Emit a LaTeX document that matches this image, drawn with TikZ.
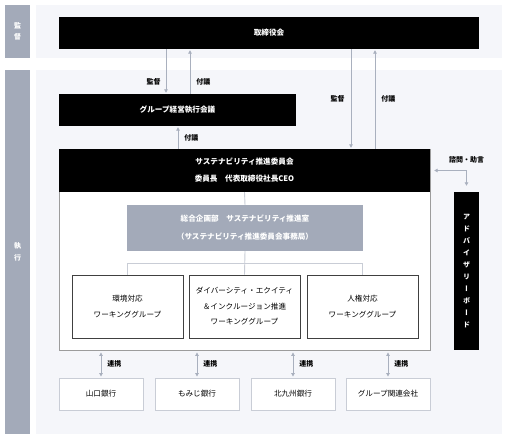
\documentclass[tikz,border=0pt]{standalone}
\usepackage{fontspec}
\setmainfont{Noto Sans CJK JP}
\newfontfamily\vertfont[RawFeature=+vert]{Noto Sans CJK JP}
\usetikzlibrary{arrows.meta}
\definecolor{barblue}{HTML}{A3AAB9}
\definecolor{panelgray}{HTML}{F5F6FA}
\definecolor{linegray}{HTML}{A9B0BE}
\definecolor{framegray}{HTML}{9C9C9C}
\definecolor{boxedge}{HTML}{C9CDD6}
\begin{document}
\begin{tikzpicture}[x=1pt, y=-1pt]
        % Define styles
        \tikzstyle{sidebar}=[rectangle, fill=barblue, minimum width=25, inner sep=0, text=white, align=center, font=\fontsize{7}{11}\selectfont\bfseries]
        \tikzstyle{panel}=[rectangle, fill=panelgray, minimum width=466, inner sep=0]
        \tikzstyle{blackbox}=[rectangle, fill=black, text=white, inner sep=0, align=center, font=\fontsize{7.6}{17}\selectfont\bfseries]
        \tikzstyle{frame}=[rectangle, fill=white, draw=framegray, line width=0.9pt, inner sep=0]
        \tikzstyle{officebox}=[rectangle, fill=barblue, text=white, inner sep=0, align=center, font=\fontsize{7.6}{18}\selectfont\bfseries]
        \tikzstyle{wg}=[rectangle, draw=black!75, line width=0.9pt, fill=white, minimum width=111, minimum height=63, inner sep=0, align=center, font=\fontsize{7.6}{15.5}\selectfont]
        \tikzstyle{bank}=[rectangle, draw=boxedge, line width=0.9pt, fill=white, minimum width=84, minimum height=32, inner sep=0, font=\fontsize{7.6}{10}\selectfont]
        \tikzstyle{treeline}=[draw=boxedge, line width=0.9pt]
        \tikzstyle{arrow}=[-{Triangle[width=3.5pt, length=3.5pt]}, draw=linegray, line width=0.9pt, shorten >=1pt]
        \tikzstyle{twoway}=[{Triangle[width=3.5pt, length=3.5pt]}-{Triangle[width=3.5pt, length=3.5pt]}, draw=linegray, line width=0.9pt]
        \tikzstyle{tag}=[inner sep=1pt, font=\fontsize{7}{9}\selectfont\bfseries]

        \useasboundingbox (0,0) rectangle (507,439);

        % Side bars and panels
        \node[sidebar, minimum height=53] (kantokubar) at (17.5,31.5) {監\\督};
        \node[panel, minimum height=53] (kantokupanel) at (269,31.5) {};
        \node[sidebar, minimum height=364, font=\fontsize{7}{12}\selectfont\bfseries] (shikkobar) at (17.5,252) {執\\行};
        \node[panel, minimum height=364] (shikkopanel) at (269,252) {};

        % Board and executive committee
        \node[blackbox, minimum width=420, minimum height=32] (board) at (269,33) {取締役会};
        \node[blackbox, minimum width=237, minimum height=32] (gmec) at (177.5,110) {グループ経営執行会議};

        % Sustainability committee
        \node[frame, minimum width=371, minimum height=201] (committeeframe) at (244.5,249.5) {};
        \node[blackbox, minimum width=371, minimum height=43] (committee) at (244.5,170.5) {
            サステナビリティ推進委員会\\
            委員長　代表取締役社長CEO
        };
        \node[officebox, minimum width=236, minimum height=46] (office) at (245,228) {
            総合企画部　サステナビリティ推進室\\
            （サステナビリティ推進委員会事務局）
        };

        % Working groups
        \node[wg] (wgenv) at (127.5,306.5) {環境対応\\ワーキンググループ};
        \node[wg] (wgdei) at (244.5,306.5) {
            ダイバーシティ・エクイティ\\
            ＆インクルージョン推進\\
            ワーキンググループ
        };
        \node[wg] (wghr) at (362.5,306.5) {人権対応\\ワーキンググループ};

        % Advisory board
        \node[blackbox, minimum width=25, minimum height=158, font=\fontsize{7}{11.9}\selectfont\bfseries\vertfont] (advisory) at (466.5,271) {
            ア\\ド\\バ\\イ\\ザ\\リ\\ー\\ボ\\ー\\ド
        };

        % Group companies
        \node[bank] (yamaguchi) at (101,394) {山口銀行};
        \node[bank] (momiji) at (197,394) {もみじ銀行};
        \node[bank] (kitakyushu) at (293,394) {北九州銀行};
        \node[bank] (groupco) at (388,394) {グループ関連会社};

        % Tree lines
        \draw[treeline] (committee.south) -- (office.north);
        \draw[treeline] (office.south) -- (wgdei.north);
        \draw[treeline] (wgenv.north) -- ++(0,-11) -| (wghr.north);

        % Arrows
        \draw[arrow] ([xshift=-103pt]board.south) -- ([xshift=-11.5pt]gmec.north) node[pos=0.73, left=4pt, tag] {監督};
        \draw[arrow] ([xshift=12.5pt]gmec.north) -- ([xshift=-79pt]board.south) node[pos=0.27, right=5pt, tag] {付議};
        \draw[arrow] ([xshift=0.5pt]gmec.south |- committee.north) -- ([xshift=0.5pt]gmec.south) node[midway, right=5pt, tag] {付議};
        \draw[arrow] ([xshift=82pt]board.south) -- ([xshift=106.5pt]committee.north) node[midway, left=5pt, tag] {監督};
        \draw[arrow] ([xshift=130.5pt]committee.north) -- ([xshift=106pt]board.south) node[midway, right=5pt, tag] {付議};
        \draw[twoway, shorten <=4pt, shorten >=6pt] (committee.east) -| (advisory.north) node[pos=0.5, above=6pt, tag] {諮問・助言};
        \draw[twoway, shorten <=2pt, shorten >=1pt] (committeeframe.south -| yamaguchi.north) -- (yamaguchi.north) node[midway, right=5pt, tag] {連携};
        \draw[twoway, shorten <=2pt, shorten >=1pt] (committeeframe.south -| momiji.north) -- (momiji.north) node[midway, right=5pt, tag] {連携};
        \draw[twoway, shorten <=2pt, shorten >=1pt] (committeeframe.south -| kitakyushu.north) -- (kitakyushu.north) node[midway, right=5pt, tag] {連携};
        \draw[twoway, shorten <=2pt, shorten >=1pt] (committeeframe.south -| groupco.north) -- (groupco.north) node[midway, right=5pt, tag] {連携};

\end{tikzpicture}
\end{document}
